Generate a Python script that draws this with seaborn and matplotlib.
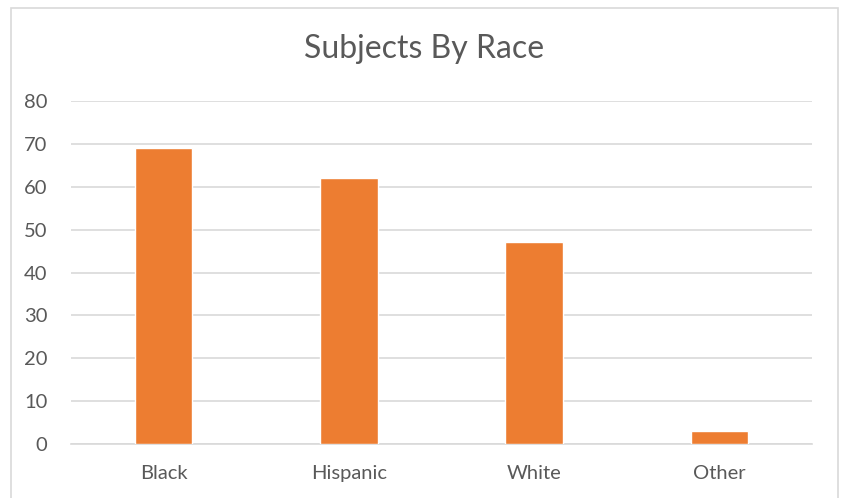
import matplotlib
matplotlib.use("Agg")
import matplotlib.pyplot as plt
import seaborn as sns
import pandas as pd
from matplotlib.patches import Rectangle

races = ["Black", "Hispanic", "White", "Other"]
subjects = [69, 62, 47, 3]

df = pd.DataFrame({"Race": races, "Subjects": subjects})

sns.set_style("white")
plt.rcParams["font.family"] = ["Lato", "DejaVu Sans"]

text_color = "#595959"
grid_color = "#D9D9D9"

fig = plt.figure(figsize=(8.41, 4.98), dpi=100)
ax = fig.add_axes([71 / 841, 54 / 498, 741 / 841, 343 / 498])

# borde gris del area del grafico
fig.patches.append(Rectangle((11 / 841, -0.05), 827 / 841, 1.05 - 8 / 498,
                             transform=fig.transFigure, fill=False,
                             edgecolor=grid_color, linewidth=1.2))

sns.barplot(data=df, x="Race", y="Subjects", color="#ED7D31", width=0.31,
            saturation=1, ax=ax, zorder=3)

ax.set_ylim(0, 80)
ax.set_yticks(range(0, 81, 10))
ax.set_xlim(-0.5, 3.5)
ax.yaxis.grid(True, color=grid_color, linewidth=1.2, zorder=0)
ax.set_axisbelow(True)
for side in ["top", "right", "left"]:
    ax.spines[side].set_visible(False)
ax.spines["bottom"].set_color(grid_color)
ax.spines["bottom"].set_linewidth(1.2)

ax.tick_params(axis="both", length=0, labelsize=14.5, labelcolor=text_color)
ax.tick_params(axis="x", pad=15)
ax.tick_params(axis="y", pad=17)
ax.set_xlabel("")
ax.set_ylabel("")

fig.text(424.5 / 841, 1 - 49 / 498, "Subjects By Race", ha="center", va="center",
         fontsize=23, color=text_color)

fig.savefig("out.png", dpi=100)
